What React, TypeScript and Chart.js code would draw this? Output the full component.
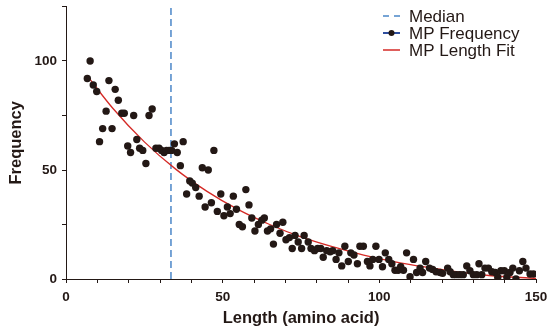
import React, { useEffect, useRef } from "react";
import { Chart, registerables } from "chart.js";

Chart.register(...registerables);

// ---- data ----
const freqX = [
  6.8, 7.7, 8.7, 9.8, 10.7, 11.7, 12.8, 13.7, 14.7, 15.7, 16.7, 17.8, 18.6, 19.7, 20.6, 21.6, 22.6, 23.5, 24.5, 25.5,
  26.5, 27.5, 28.7, 29.7, 30.5, 31.3, 32.1, 32.9, 33.7, 34.6, 35.5, 36.5, 37.4, 38.5, 39.5, 40.3, 41.4, 42.5, 43.5, 44.4,
  45.4, 46.4, 47.2, 48.3, 49.4, 50.4, 51.5, 52.4, 53.4, 54.4, 55.3, 56.3, 57.4, 58.4, 59.3, 60.3, 61.4, 62.5, 63.3, 64.3,
  65.3, 66.2, 67.2, 68.3, 69.2, 70.2, 71.3, 72.2, 73.1, 74.1, 75.2, 76.0, 77.3, 78.2, 79.3, 80.3, 81.3, 82.1, 83.2, 84.3,
  85.1, 86.2, 87.1, 88.0, 89.0, 90.1, 90.9, 91.9, 93.0, 93.8, 94.9, 96.2, 97.0, 97.9, 98.9, 99.9, 101.0, 101.9, 103.0, 104.0,
  105.0, 106.0, 106.8, 107.7, 108.7, 109.8, 110.9, 111.9, 113.0, 113.8, 114.8, 116.0, 117.0, 118.1, 119.4, 120.2, 121.8, 122.6, 123.6, 124.6,
  125.7, 126.8, 127.9, 128.9, 130.0, 131.1, 131.8, 132.7, 133.7, 134.8, 135.9, 137.0, 137.8, 138.8, 139.9, 140.7, 141.7, 142.6, 143.6, 144.7,
  145.8, 146.8, 148.1, 149.2,
];
const freqY = [
  92, 100, 89, 86, 63, 69, 77, 91, 69, 87, 82, 76, 76, 61, 58, 75, 64, 60, 59, 53,
  75, 78, 60, 60, 59, 58, 59, 59, 59, 62, 58, 52, 63, 39, 45, 44, 42, 38, 51, 33,
  50, 35, 59, 31, 39, 29, 33, 30, 38, 32, 25, 24, 41, 34, 28, 22, 25, 27, 28, 22,
  23, 16, 25, 21, 26, 18, 19, 14, 20, 17, 14, 20, 17, 14, 13, 14, 14, 10, 13, 12.5,
  13, 9, 12, 6, 15, 8, 12, 11, 7, 15, 15, 8, 6, 9, 15, 9, 5.6, 12, 9, 7,
  4, 4, 5.6, 4, 12, 1, 9, 3, 5, 3, 8, 5, 4.4, 3.3, 3, 2.6, 5, 3.3, 2, 2,
  2, 2, 6, 3.8, 2, 2, 7, 2, 5, 5, 3.3, 3, 0.8, 3.8, 3.8, 0.8, 3, 5, 0, 3.8,
  8, 5, 2.3, 2.3,
];

const fitX = [7, 15, 25, 35, 45, 55, 65, 75, 85, 95, 105, 115, 125, 135, 150];
const fitY = [92.8, 78.2, 62.9, 50.4, 40.2, 31.8, 25.0, 19.3, 14.8, 11.0, 7.9, 5.4, 3.3, 1.6, 0.3];

const medianValue = 33.5;
const yRange = [0, 125];
const xRange = [0, 150];
const xLabelTicks = [0, 50, 100, 150];
const yLabelTicks = [0, 50, 100];

const labels = ["Median", "MP Frequency", "MP Length Fit"];

const INK = "#231815";
const FONT = "'Liberation Sans', Arial, Helvetica, sans-serif";
const RED = "#d42a26";
const BLUE = "#4a86c8";
const DARKBLUE = "#2f4f9f";

const legendPlugin = {
  id: "customLegend",
  afterDraw(chart: any) {
    const ctx = chart.ctx;
    ctx.save();
    const x0 = 383;
    const x1 = 400;
    const tx = 409;
    const rows = [16, 33, 50];
    ctx.font = `17px ${FONT}`;
    ctx.textBaseline = "middle";
    // Median
    ctx.strokeStyle = BLUE;
    ctx.lineWidth = 1.5;
    ctx.setLineDash([6, 5]);
    ctx.beginPath();
    ctx.moveTo(x0, rows[0]);
    ctx.lineTo(x1, rows[0]);
    ctx.stroke();
    ctx.setLineDash([]);
    // MP Frequency
    ctx.strokeStyle = DARKBLUE;
    ctx.lineWidth = 2;
    ctx.beginPath();
    ctx.moveTo(x0, rows[1]);
    ctx.lineTo(x1, rows[1]);
    ctx.stroke();
    ctx.fillStyle = INK;
    ctx.beginPath();
    ctx.arc((x0 + x1) / 2, rows[1], 3, 0, Math.PI * 2);
    ctx.fill();
    // Fit
    ctx.strokeStyle = RED;
    ctx.lineWidth = 1.5;
    ctx.beginPath();
    ctx.moveTo(x0, rows[2]);
    ctx.lineTo(x1, rows[2]);
    ctx.stroke();
    ctx.fillStyle = INK;
    labels.forEach((l, i) => ctx.fillText(l, tx, rows[i] + 1));
    ctx.restore();
  },
};

export default function App() {
  const ref = useRef<HTMLCanvasElement | null>(null);

  useEffect(() => {
    document.body.style.margin = "0";
    if (!ref.current) return;
    const chart = new Chart(ref.current, {
      type: "scatter",
      data: {
        datasets: [
          {
            label: labels[1],
            data: freqX.map((x, i) => ({ x, y: freqY[i] })),
            backgroundColor: INK,
            borderColor: INK,
            borderWidth: 0,
            pointRadius: 3.7,
            showLine: false,
            order: 0,
          },
          {
            label: labels[2],
            type: "line",
            data: fitX.map((x, i) => ({ x, y: fitY[i] })),
            borderColor: RED,
            borderWidth: 1.3,
            pointRadius: 0,
            cubicInterpolationMode: "monotone",
            fill: false,
            order: 1,
          } as any,
          {
            label: labels[0],
            type: "line",
            data: [
              { x: medianValue, y: yRange[0] },
              { x: medianValue, y: yRange[1] },
            ],
            borderColor: BLUE,
            borderWidth: 1.5,
            borderDash: [7, 4],
            pointRadius: 0,
            fill: false,
            order: 2,
          } as any,
        ],
      },
      options: {
        responsive: false,
        animation: false,
        events: [],
        layout: { padding: { top: 6.5, right: 12, left: 0, bottom: 0 } },
        plugins: {
          legend: { display: false },
          tooltip: { enabled: false },
        },
        scales: {
          x: {
            type: "linear",
            min: xRange[0],
            max: xRange[1],
            afterFit: (s: any) => {
              s.height = 54;
              s.paddingLeft = 0;
              s.paddingRight = 0;
            },
            ticks: {
              stepSize: 10,
              autoSkip: false,
              maxRotation: 0,
              padding: 6,
              color: INK,
              font: { family: FONT, size: 13.5, weight: "bold" },
              callback: (v: any) => (xLabelTicks.includes(Number(v)) ? String(v) : ""),
            },
            grid: { display: true, drawOnChartArea: false, drawTicks: true, tickLength: 4, color: INK },
            border: { display: true, color: INK, width: 1 },
            title: {
              display: true,
              text: "Length (amino acid)",
              color: INK,
              font: { family: FONT, size: 16.5, weight: "bold" },
              padding: { top: 0, bottom: 5 },
            },
          },
          y: {
            type: "linear",
            min: yRange[0],
            max: yRange[1],
            afterFit: (s: any) => {
              s.width = 66;
              s.paddingTop = 0;
              s.paddingBottom = 0;
            },
            ticks: {
              stepSize: 25,
              autoSkip: false,
              padding: 5,
              color: INK,
              font: { family: FONT, size: 13.5, weight: "bold" },
              callback: (v: any) => (yLabelTicks.includes(Number(v)) ? String(v) : ""),
            },
            grid: { display: true, drawOnChartArea: false, drawTicks: true, tickLength: 4, color: INK },
            border: { display: true, color: INK, width: 1 },
            title: {
              display: true,
              text: "Frequency",
              color: INK,
              font: { family: FONT, size: 16.5, weight: "bold" },
              padding: { top: 7, bottom: 0 },
            },
          },
        },
      },
      plugins: [legendPlugin],
    });
    return () => chart.destroy();
  }, []);

  return (
    <div style={{ position: "absolute", left: 0, top: 0, width: 548, height: 333, background: "#fff" }}>
      <canvas ref={ref} width={548} height={333} />
    </div>
  );
}
